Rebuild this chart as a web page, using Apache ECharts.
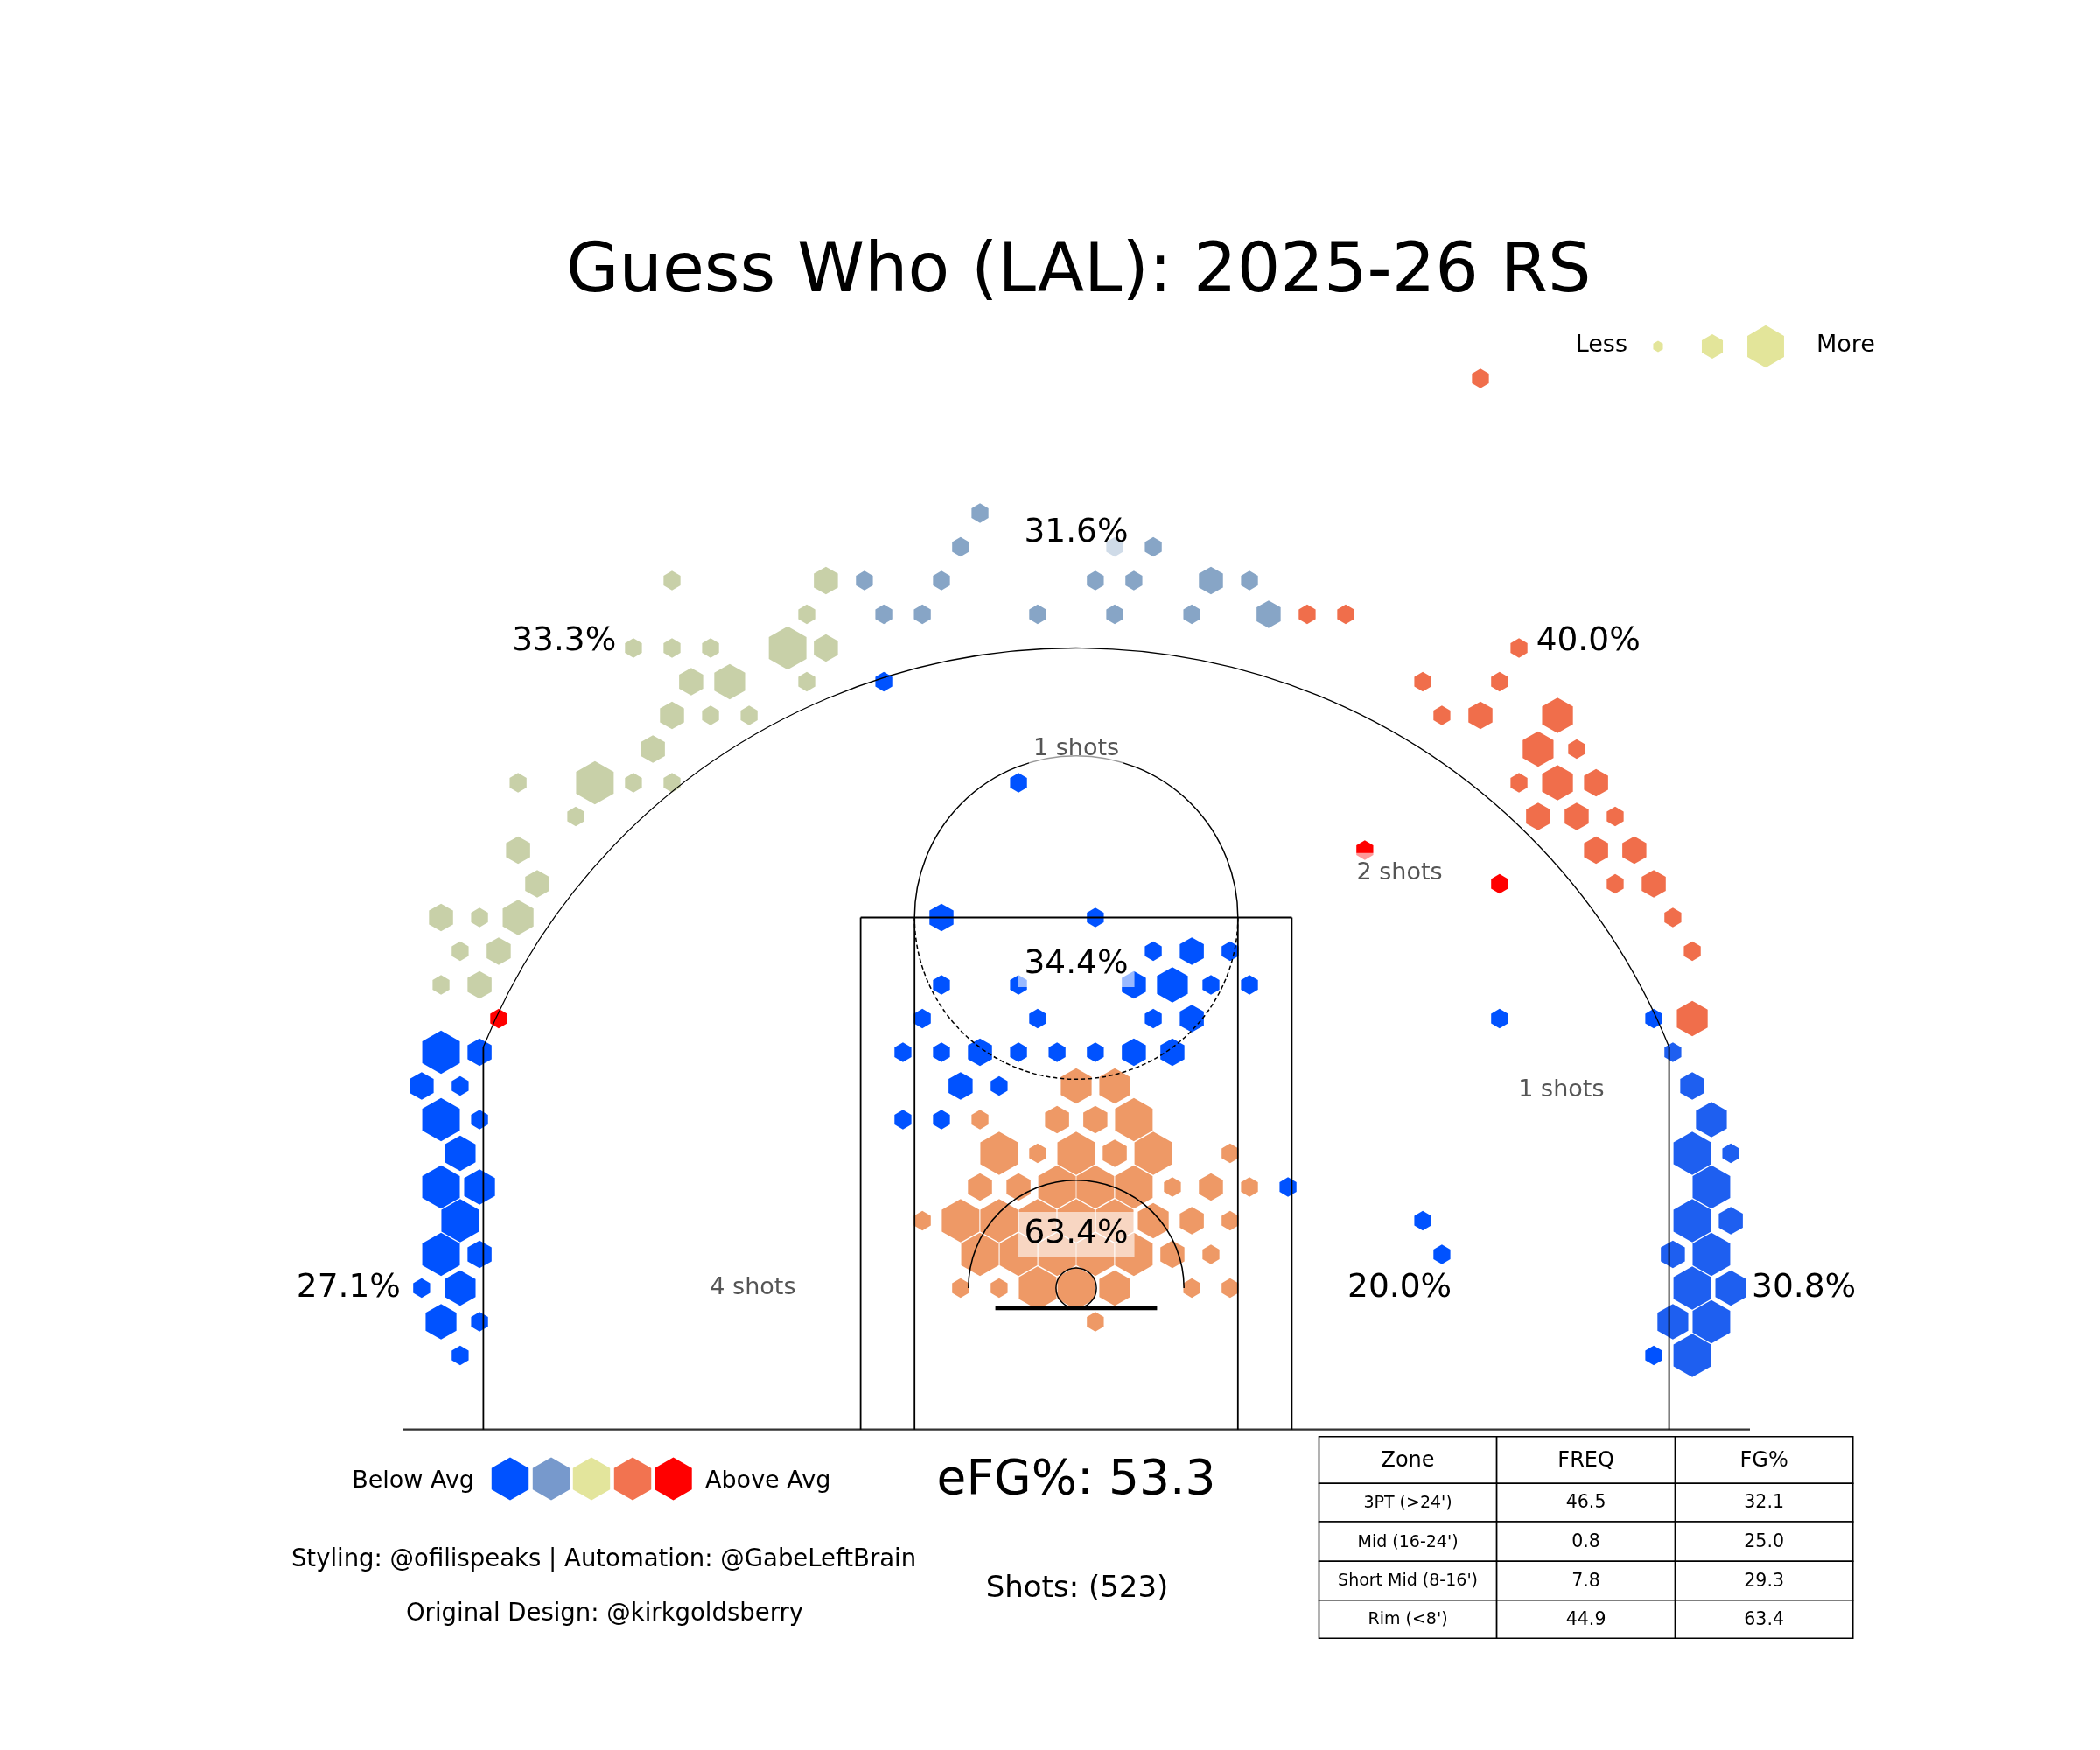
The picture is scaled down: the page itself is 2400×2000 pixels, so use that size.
<!DOCTYPE html>
<html>
<head>
<meta charset="utf-8">
<script src="https://cdn.jsdelivr.net/npm/echarts@6/dist/echarts.min.js"></script>
<style>html,body{margin:0;padding:0;background:#fff}#c{width:2400px;height:2000px}</style>
</head>
<body>
<div id="c"></div>
<script>
// ---------------- DATA (court units: tenths of feet, hoop at 0,0) ----------------
// each hex: [x, y, frequency level 1..4]
const leftCornerHexes = [
  [-235.7, 87.5, 4], [-221.4, 87.5, 2],
  [-242.9, 75, 2], [-228.6, 75, 1],
  [-235.7, 62.5, 4], [-221.4, 62.5, 1],
  [-228.6, 50, 3],
  [-235.7, 37.5, 4], [-221.4, 37.5, 3],
  [-228.6, 25, 4],
  [-235.7, 12.5, 4], [-221.4, 12.5, 2],
  [-242.9, 0, 1], [-228.6, 0, 3],
  [-235.7, -12.5, 3], [-221.4, -12.5, 1],
  [-228.6, -25, 1]
];
const leftWingHexes = [
  [-150.0, 262.5, 1], [-92.9, 262.5, 2],
  [-100.0, 250, 1],
  [-164.3, 237.5, 1], [-150.0, 237.5, 1], [-135.7, 237.5, 1], [-107.1, 237.5, 4], [-92.9, 237.5, 2],
  [-142.9, 225, 2], [-128.6, 225, 3], [-100.0, 225, 1],
  [-150.0, 212.5, 2], [-135.7, 212.5, 1], [-121.4, 212.5, 1],
  [-157.1, 200, 2],
  [-207.1, 187.5, 1], [-178.6, 187.5, 4], [-164.3, 187.5, 1], [-150.0, 187.5, 1],
  [-185.7, 175, 1],
  [-207.1, 162.5, 2],
  [-200.0, 150, 2],
  [-235.7, 137.5, 2], [-221.4, 137.5, 1], [-207.1, 137.5, 3],
  [-228.6, 125, 1], [-214.3, 125, 2],
  [-235.7, 112.5, 1], [-221.4, 112.5, 2]
];
const topHexes = [
  [-35.7, 287.5, 1],
  [-42.9, 275, 1], [14.3, 275, 1], [28.6, 275, 1],
  [-78.6, 262.5, 1], [-50.0, 262.5, 1], [7.1, 262.5, 1], [21.4, 262.5, 1], [50.0, 262.5, 2], [64.3, 262.5, 1],
  [-71.4, 250, 1], [-57.1, 250, 1], [-14.3, 250, 1], [14.3, 250, 1], [42.9, 250, 1], [71.4, 250, 2]
];
const rightWingHexes = [
  [150.0, 337.5, 1],
  [85.7, 250, 1], [100.0, 250, 1],
  [164.3, 237.5, 1],
  [128.6, 225, 1], [157.1, 225, 1],
  [135.7, 212.5, 1], [150.0, 212.5, 2], [178.6, 212.5, 3],
  [171.4, 200, 3], [185.7, 200, 1],
  [164.3, 187.5, 1], [178.6, 187.5, 3], [192.9, 187.5, 2],
  [171.4, 175, 2], [185.7, 175, 2], [200.0, 175, 1],
  [192.9, 162.5, 2], [207.1, 162.5, 2],
  [200.0, 150, 1], [214.3, 150, 2],
  [221.4, 137.5, 1],
  [228.6, 125, 1],
  [228.6, 100, 3]
];
const rightCornerHexes = [
  [221.4, 87.5, 1],
  [228.6, 75, 2],
  [235.7, 62.5, 3],
  [228.6, 50, 4], [242.9, 50, 1],
  [235.7, 37.5, 4],
  [228.6, 25, 4], [242.9, 25, 2],
  [221.4, 12.5, 2], [235.7, 12.5, 4],
  [228.6, 0, 4], [242.9, 0, 3],
  [221.4, -12.5, 3], [235.7, -12.5, 4],
  [228.6, -25, 4]
];
const shortMidHexes = [
  [-50.0, 137.5, 2], [7.1, 137.5, 1],
  [28.6, 125, 1], [42.9, 125, 2], [57.1, 125, 1],
  [-50.0, 112.5, 1], [-21.4, 112.5, 1], [21.4, 112.5, 2], [35.7, 112.5, 3], [50.0, 112.5, 1], [64.3, 112.5, 1],
  [-57.1, 100, 1], [-14.3, 100, 1], [28.6, 100, 1], [42.9, 100, 2],
  [-64.3, 87.5, 1], [-50.0, 87.5, 1], [-35.7, 87.5, 2], [-21.4, 87.5, 1], [-7.1, 87.5, 1], [7.1, 87.5, 1], [21.4, 87.5, 2], [35.7, 87.5, 2],
  [-42.9, 75, 2], [-28.6, 75, 1],
  [-64.3, 62.5, 1], [-50.0, 62.5, 1],
  [78.6, 37.5, 1]
];
const rimHexes = [
  [0, 75, 3], [14.3, 75, 3],
  [-35.7, 62.5, 1], [-7.1, 62.5, 2], [7.1, 62.5, 2], [21.4, 62.5, 4],
  [-28.6, 50, 4], [-14.3, 50, 1], [0, 50, 4], [14.3, 50, 2], [28.6, 50, 4], [57.1, 50, 1],
  [-35.7, 37.5, 2], [-21.4, 37.5, 2], [-7.1, 37.5, 4], [7.1, 37.5, 4], [21.4, 37.5, 4], [35.7, 37.5, 1], [50.0, 37.5, 2], [64.3, 37.5, 1],
  [-57.1, 25, 1], [-42.9, 25, 4], [-28.6, 25, 4], [-14.3, 25, 4], [0, 25, 4], [14.3, 25, 4], [28.6, 25, 3], [42.9, 25, 2], [57.1, 25, 1],
  [-35.7, 12.5, 4], [-21.4, 12.5, 4], [-7.1, 12.5, 4], [7.1, 12.5, 4], [21.4, 12.5, 4], [35.7, 12.5, 2], [50.0, 12.5, 1],
  [-42.9, 0, 1], [-28.6, 0, 1], [-14.3, 0, 4], [0, 0, 4], [14.3, 0, 3], [42.9, 0, 1], [57.1, 0, 1],
  [7.1, -12.5, 1]
];
const midMissHexes = [
  [-71.4, 225, 1], [-21.4, 187.5, 1], [157.1, 100, 1], [214.3, 100, 1],
  [128.6, 25, 1], [135.7, 12.5, 1], [214.3, -25, 1]
];
const midMakeHexes = [
  [-214.3, 100, 1], [107.1, 162.5, 1], [157.1, 150, 1]
];

// zone labels
const pctLabelText = ['33.3%', '31.6%', '40.0%', '34.4%', '63.4%', '27.1%', '30.8%', '20.0%'];
const pctLabelX = [-190, 0, 190, 0, 0, -270, 270, 120];
const pctLabelY = [240, 280, 240, 120, 20, 0, 0, 0];
const shotLabelText = ['1 shots', '2 shots', '1 shots', '4 shots'];
const shotLabelX = [0, 120, 180, -120];
const shotLabelY = [200, 154, 73.5, 0];

// summary table
const tableHeader = ['Zone', 'FREQ', 'FG%'];
const tableZones = ["3PT (>24')", "Mid (16-24')", "Short Mid (8-16')", "Rim (<8')"];
const tableFreq = [46.5, 0.8, 7.8, 44.9];
const tableFG = [32.1, 25.0, 29.3, 63.4];

const titleText = 'Guess Who (LAL): 2025-26 RS';
const efgText = 'eFG%: 53.3';
const shotsText = 'Shots: (523)';

// ---------------- STYLE ----------------
const FONT = 'DejaVu Sans';
const COL = {
  blue: '#0052FF', cornerR: '#1E5FF0', steel: '#87A5C6', sage: '#C8D0A8',
  rim: '#EE9966', tomato: '#F06E4B', red: '#FF0000'
};
const HEX_R = 8.05;                 // full hex vertex radius in court units
const LEVEL_FRAC = [0.45, 0.64, 0.82, 1.0];

function hexPoints(cx, cy, R) {
  const pts = [];
  for (let k = 0; k < 6; k++) {
    const a = Math.PI / 180 * (60 * k - 90);
    pts.push([cx + R * Math.cos(a), cy + R * Math.sin(a)]);
  }
  return pts;
}

function hexSeries(name, data, color) {
  return {
    type: 'custom', name: name, coordinateSystem: 'cartesian2d', z: 2, clip: false,
    data: data,
    renderItem: function (params, api) {
      const c = api.coord([api.value(0), api.value(1)]);
      const s = api.size([1, 1])[0];
      const R = HEX_R * LEVEL_FRAC[api.value(2) - 1] * s;
      return { type: 'polygon', shape: { points: hexPoints(c[0], c[1], R) }, style: { fill: color, stroke: null } };
    }
  };
}

function courtRender(params, api) {
  const P = (x, y) => api.coord([x, y]);
  const s = api.size([1, 1])[0];
  const line = (x1, y1, x2, y2, w, color) => {
    const a = P(x1, y1), b = P(x2, y2);
    return { type: 'line', shape: { x1: a[0], y1: a[1], x2: b[0], y2: b[1] }, style: { stroke: color || '#000', lineWidth: w || 1.8, fill: 'none' } };
  };
  const arc = (cx, cy, r, sa, ea, w, dash) => {
    const c = P(cx, cy);
    return { type: 'arc', shape: { cx: c[0], cy: c[1], r: r * s, startAngle: sa, endAngle: ea, clockwise: true },
      style: { stroke: '#000', fill: 'none', lineWidth: w || 1.4, lineDash: dash || null } };
  };
  const cornerY = Math.sqrt(237.5 * 237.5 - 220 * 220);
  const t0 = Math.atan2(cornerY, 220);
  const kids = [
    line(-250, -52.5, 250, -52.5, 2.2, '#333'),
    line(-220, -52.5, -220, cornerY, 1.8),
    line(220, -52.5, 220, cornerY, 1.8),
    arc(0, 0, 237.5, Math.PI + t0, 2 * Math.PI - t0, 1.3),
    line(-80, -52.5, -80, 137.5), line(80, -52.5, 80, 137.5), line(-80, 137.5, 80, 137.5),
    line(-60, -52.5, -60, 137.5), line(60, -52.5, 60, 137.5),
    arc(0, 137.5, 60, Math.PI, 2 * Math.PI, 1.5),
    arc(0, 137.5, 60, 0, Math.PI, 1.5, [5, 3]),
    arc(0, 0, 40, Math.PI, 2 * Math.PI, 1.5),
    arc(0, 0, 7.5, 0, 2 * Math.PI, 1.5),
    line(-30, -7.5, 30, -7.5, 4.5)
  ];
  return { type: 'group', children: kids };
}

function labelSeries(texts, xs, ys, fontSize, color, lineHeight, padding) {
  return {
    type: 'custom', coordinateSystem: 'cartesian2d', z: 5, clip: false,
    data: texts.map((t, i) => [xs[i], ys[i]]),
    renderItem: function (params, api) {
      const p = api.coord([api.value(0), api.value(1)]);
      return { type: 'text', x: p[0], y: p[1], z2: 10,
        style: { text: texts[params.dataIndex], fill: color, fontSize: fontSize, fontFamily: FONT,
          align: 'center', verticalAlign: 'middle', lineHeight: lineHeight, padding: padding,
          backgroundColor: 'rgba(255,255,255,0.6)' } };
    }
  };
}

// ---------------- GRAPHICS (legends, captions, table) ----------------
const graphics = [];
function gText(text, x, y, size, align, color) {
  graphics.push({ type: 'text', x: x, y: y, z: 10,
    style: { text: text, fontSize: size, fontFamily: FONT, fill: color || '#000', align: align || 'center', verticalAlign: 'middle' } });
}
// size legend
gText('Less', 1860, 395, 27, 'right');
gText('More', 2076, 395, 27, 'left');
[[1895, 6.4], [1957, 13.9], [2018, 24.2]].forEach(h => {
  graphics.push({ type: 'polygon', z: 10, shape: { points: hexPoints(h[0], 396, h[1]) }, style: { fill: '#E3E59A' } });
});
// colour legend
gText('Below Avg', 542, 1693, 27, 'right');
gText('Above Avg', 806, 1693, 27, 'left');
const legendColors = ['#0052FF', '#7799CC', '#E3E59C', '#F27350', '#FF0000'];
const legendX = [583, 630, 676, 723, 769.5];
legendColors.forEach((c, i) => {
  graphics.push({ type: 'polygon', z: 10, shape: { points: hexPoints(legendX[i], 1690, 24.5) }, style: { fill: c } });
});
gText(efgText, 1230, 1693, 55, 'center');
gText(shotsText, 1231, 1816, 34, 'center');
gText('Styling: @ofilispeaks | Automation: @GabeLeftBrain', 690, 1783, 27.5, 'center');
gText('Original Design: @kirkgoldsberry', 691, 1845, 27.5, 'center');
// table
const colX = [1507.5, 1710.6, 1914.6, 2117.7];
const rowY = [1641.7, 1695.3, 1739, 1784.3, 1828.7, 1872.3];
const tableRows = [tableHeader].concat(tableZones.map((z, i) => [z, tableFreq[i].toFixed(1), tableFG[i].toFixed(1)]));
tableRows.forEach((row, r) => {
  row.forEach((cell, c) => {
    graphics.push({ type: 'rect', z: 9,
      shape: { x: colX[c], y: rowY[r], width: colX[c + 1] - colX[c], height: rowY[r + 1] - rowY[r] },
      style: { fill: '#fff', stroke: '#000', lineWidth: 1.6 } });
    const size = r === 0 ? 24 : (c === 0 ? 19 : 20.5);
    gText(String(cell), (colX[c] + colX[c + 1]) / 2, (rowY[r] + rowY[r + 1]) / 2 + 1, size, 'center');
  });
});

// title centred over the court
const measureCtx = document.createElement('canvas').getContext('2d');
measureCtx.font = '78px "' + FONT + '"';
const titleW = measureCtx.measureText(titleText).width;

// ---------------- CHART ----------------
const chart = echarts.init(document.getElementById('c'), null, { renderer: 'canvas', width: 2400, height: 2000 });
chart.setOption({
  animation: false,
  backgroundColor: '#fff',
  title: { text: titleText, left: Math.round(1233 - titleW / 2), top: 274, padding: 0,
    textStyle: { fontSize: 78, fontWeight: 'normal', color: '#000', fontFamily: FONT, lineHeight: 78 } },
  grid: { left: 460, top: 170.7, width: 1540, height: 1463, containLabel: false },
  xAxis: { type: 'value', min: -250, max: 250, show: false },
  yAxis: { type: 'value', min: -52.5, max: 422.5, show: false },
  series: [
    hexSeries('Left Corner 3', leftCornerHexes, COL.blue),
    hexSeries('Left Wing 3', leftWingHexes, COL.sage),
    hexSeries('Top 3', topHexes, COL.steel),
    hexSeries('Right Wing 3', rightWingHexes, COL.tomato),
    hexSeries('Right Corner 3', rightCornerHexes, COL.cornerR),
    hexSeries('Short Mid', shortMidHexes, COL.blue),
    hexSeries('Rim', rimHexes, COL.rim),
    hexSeries('Mid Below', midMissHexes, COL.blue),
    hexSeries('Mid Above', midMakeHexes, COL.red),
    { type: 'custom', coordinateSystem: 'cartesian2d', z: 3, clip: false, data: [[0, 0]], renderItem: courtRender, silent: true },
    labelSeries(pctLabelText, pctLabelX, pctLabelY, 37.5, '#000', 40, [2, 7, 9, 7]),
    labelSeries(shotLabelText, shotLabelX, shotLabelY, 27, '#555', 32, [6, 5, 8, 5])
  ],
  graphic: graphics
});
</script>
</body>
</html>
